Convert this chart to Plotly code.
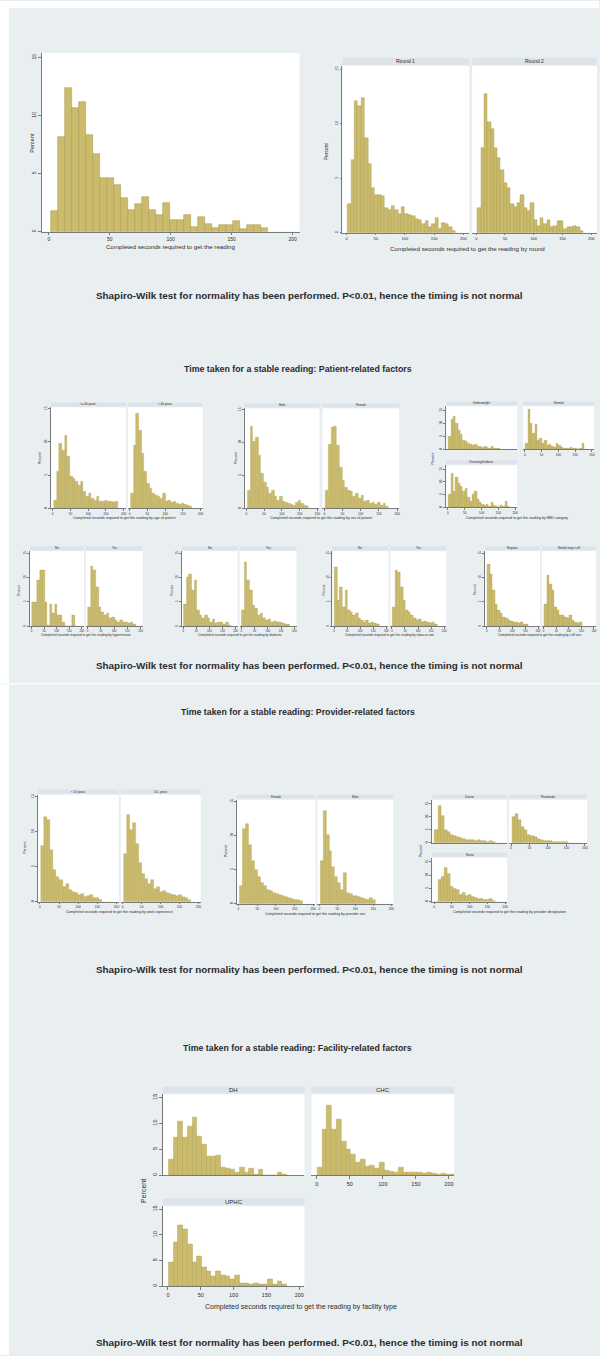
import plotly.graph_objects as go

W, H = 600, 1356
BG = "#e9eef1"
STRIP = "#dde3e8"
BAR = "#cbbb6c"
BAR_EDGE = "#a8994e"
AX = "#7a7a7a"
TXT = "#2b2b2b"
FONT = "Liberation Sans"

X_TICKS = [0, 50, 100, 150, 200]
Y_TICKS = [0, 5, 10, 15]

# ---------------- data (percent per bin) ----------------
# bins given as (first bin start in seconds, bin width in seconds)
BINS_OVERALL = (1.4, 5.75)
overall_pct = [1.8, 8.2, 12.4, 10.7, 11.2, 8.3, 6.7, 4.6, 4.6, 4.0, 2.9, 1.9, 2.4, 3.0, 1.9, 1.4,
               2.45, 1.0, 1.0, 1.4, 0.45, 1.3, 0.65, 0.35, 0.6, 0.6, 0.95, 0.25, 0.6, 0.6, 0.35]

BINS_ROUND = (2.2, 5.75)
round_labels = ["Round 1", "Round 2"]
round1_pct = [2.6, 6.7, 12.1, 11.6, 12.4, 8.7, 6.3, 4.1, 3.5, 3.5, 3.4, 2.3, 2.1, 2.5, 2.1, 1.7,
              2.4, 1.7, 1.6, 1.5, 1.3, 1.2, 0.8, 1.1, 0.5, 0.8, 1.4, 0.3, 0.9, 0.8, 0.5, 0.2]
round2_pct = [2.3, 7.8, 12.7, 10.2, 9.5, 7.8, 6.9, 5.8, 4.6, 4.1, 2.6, 2.4, 2.75, 3.5, 2.3, 2.0,
              2.75, 1.2, 0.6, 1.4, 0.8, 1.2, 0.5, 0.6, 1.1, 1.1, 0.3, 0.5, 0.5, 0.6, 0.5, 0.2]

# Patient-related factors, row 1
BINS_P1 = (3.6, 7.5)
age_labels = ["<= 40 years", "> 40 years"]
age_a = [1.25, 5.5, 9.75, 8.75, 11, 7.75, 4.75, 4.5, 4, 3.5, 4, 2.5, 1.75, 2.25, 1.5, 1.25,
         1.75, 1, 1, 1.25, 1, 1.1, 0.85, 1.1]
age_b = [2.25, 9.5, 14.25, 11.75, 8.25, 5.5, 3.75, 3, 2.25, 2, 1.75, 1.5, 2.25, 1, 1.25, 0.85,
         1, 0.75, 0.65, 0.75, 0.6, 0.5, 0.35]
sex_labels = ["Male", "Female"]
sex_a = [2.75, 12.5, 10.25, 10.75, 8, 5.25, 4, 3.25, 2.25, 2.75, 1.75, 1.25, 1.75, 1, 0.85, 0.75,
         0.65, 0.5, 0.85, 1.25, 0.75, 0.5, 0.35]
sex_b = [2.75, 9.75, 12.25, 12.5, 9.5, 6.25, 4.25, 3.25, 2.75, 2.5, 1.85, 2.25, 1.5, 2, 1, 1.15,
         0.75, 0.85, 0.65, 0.85, 0.5, 0.75, 0.35]
BINS_BMI = (2.0, 7.0)
bmi_labels = ["Underweight", "Normal", "Overweight/obese"]
bmi_a = [4.9, 11.4, 12.7, 10.1, 7.5, 5.6, 3.6, 3, 2.3, 2.1, 1.7, 1.9, 1, 1.3, 0.8, 1.3, 0.8, 0.5,
         1, 0.4, 0.4, 0.3]
bmi_b = [2.3, 15.3, 10.1, 6.2, 9.5, 3.6, 4.3, 2.3, 3.6, 1.7, 2.1, 1, 0.8, 2.3, 1.7, 0.8, 0.5, 0.4,
         0.3, 0.8, 0.3, 0.4, 0.1, 0.3, 2.3, 0.1]
bmi_c = [5.1, 13.3, 6.3, 12, 9.5, 8.2, 6.3, 7.6, 3.8, 2.5, 5.1, 6.3, 3.2, 1.9, 1.3, 0.6, 1.3, 0.25,
         1.9, 0.6, 0.25, 0, 0.6, 0.25, 2.5, 0.25]

# Patient-related factors, row 2
BINS_P2 = (2.0, 10.0)
yesno_labels = ["No", "Yes"]
htn_a = [5, 5, 9.4, 11.4, 11.4, 5, 0.2, 4.6, 2.6, 4.6, 2.2, 2.2, 0.9, 0, 0, 0, 2.2, 0]
htn_b = [3.9, 12.4, 11.4, 8, 3.9, 2.9, 2.2, 2.6, 1.6, 1.9, 1.2, 0.9, 1.2, 0.7, 0.9, 0.5, 0.7, 0.4]
dm_a = [4.6, 10, 10.7, 7.3, 9.4, 3.3, 2.2, 1.6, 2.2, 1.6, 0.9, 1.4, 0.5, 0.7, 0.9, 0.4, 0.7, 0.2]
dm_b = [3.3, 13.1, 9.4, 7.3, 4.3, 3.6, 2.2, 2.6, 1.6, 1.2, 1.4, 0.9, 1.1, 0.7, 0.9, 0.5, 0.4, 0.3]
tob_a = [12.1, 5.3, 8, 3.9, 7.3, 3.3, 2.9, 2.2, 2.6, 1.6, 1.2, 0.9, 1.2, 0.5, 0.9, 0.5, 0.4]
tob_b = [3.9, 11.4, 11.1, 8, 5.3, 3.3, 2.9, 2.2, 1.6, 1.2, 1.4, 0.9, 1.1, 0.7, 0.5, 0.7, 0.4]
cuff_labels = ["Regular", "Needs large cuff"]
cuff_a = [12.8, 10.7, 7.3, 4.6, 3.3, 2.6, 1.9, 1.6, 1.2, 1.1, 0.9, 0.7, 0.5, 0.7, 0.4, 0.3]
cuff_b = [4.6, 10.4, 8.7, 7.3, 3.9, 3.3, 2.2, 2.2, 1.9, 1.6, 2.2, 1.2, 0.9, 0.5, 0.7]

# Provider-related factors
BINS_PR = (3.0, 8.0)
pexp_labels = ["< 10 years", "10+ years"]
pexp_a = [7.9, 12.1, 11.7, 7.4, 4.5, 3.6, 3.1, 2.1, 2.6, 1.7, 1.4, 1.2, 0.95, 1.1, 0.7, 0.8,
          0.95, 0.6, 0.5, 0.3]
pexp_b = [6.9, 12.4, 10.2, 11.2, 8.3, 5.5, 4, 3.3, 2.6, 3.1, 1.9, 2.1, 1.4, 1.6, 1.2, 1.1, 0.95,
          0.8, 0.95, 0.7, 0.5, 0.3]
psex_labels = ["Female", "Male"]
psex_a = [2.6, 11, 11.7, 8.7, 6.3, 4.9, 4, 3.1, 2.6, 2.1, 1.9, 1.6, 1.4, 1.3, 1.1, 0.95, 0.8, 0.7,
          0.6, 0.5, 0.35]
psex_b = [6.3, 13.6, 10.1, 7.7, 5.4, 4, 3.1, 2.1, 4.5, 1.6, 1.4, 1.2, 1.1, 0.95, 0.8, 0.7, 0.6,
          0.8, 0.5]
BINS_DES = (2.0, 8.5)
des_labels = ["Doctor", "Paramedic", "Nurse"]
des_a = [5, 14.4, 10.6, 5, 4.4, 3.1, 2.5, 2.25, 1.9, 1.5, 1.25, 1, 1.25, 0.75, 1, 0.6, 0.9, 0.5,
         0.75, 0.4]
des_b = [10, 11.25, 8.75, 6.25, 5, 3.1, 2.75, 2.25, 1.5, 1.25, 0.9, 0.6, 0.75, 0.5, 0.4, 0.5,
         0.25, 0.5]
des_c = [0, 8.3, 9.4, 12.8, 10.6, 5.6, 5, 4.4, 2.8, 3.3, 2.2, 2.5, 1.7, 1.4, 1.1, 1, 0.8, 0.55,
         1.1, 0.3]

# Facility-related factors
BINS_FAC = (1.0, 7.2)
fac_labels = ["DH", "CHC", "UPHC"]
fac_dh = [3.1, 7.3, 10.3, 7.3, 9.4, 11.2, 7.5, 6.0, 3.6, 3.6, 3.9, 1.5, 1.3, 1.2, 0.65, 1.5, 0.5,
          1.3, 0.2, 1.2, 0, 0, 0, 0.5, 0.2]
fac_chc = [1.5, 8.9, 13.4, 8.9, 10.8, 6.6, 5.0, 4.1, 2.5, 3.1, 1.8, 1.9, 1.3, 2.5, 1.0, 0.8, 0.65,
           1.5, 0.5, 0.65, 0.5, 0.65, 0.4, 0.65, 0.4, 0.2, 0.4, 0.2, 0.1]
fac_uphc = [4.6, 8.5, 11.9, 11.1, 8.2, 4.6, 5.9, 3.6, 2.9, 2.0, 2.9, 2.1, 2.0, 1.4, 2.1, 0.65,
            0.65, 0.3, 0.65, 0.45, 0.3, 1.4, 0.3, 1.0, 0.3]

SW_TEXT = "Shapiro-Wilk test for normality has been performed. P<0.01, hence the timing is not normal"
XT = "Completed seconds required to get the reading"

# ---------------- figure ----------------
fig = go.Figure()
layout = {}
shapes = []
annotations = []
count = [0]


def text(x, y, s, size, bold=False, angle=0):
    annotations.append(dict(
        x=x / W, y=1 - y / H, xref="paper", yref="paper",
        text=f"<b>{s}</b>" if bold else s, showarrow=False,
        font=dict(family=FONT, size=size, color=TXT), textangle=angle,
        xanchor="center", yanchor="middle"))


def panel(box, pct, bins, xr, yr, show_x, show_y, fs, strip=None, strip_h=4, strip_fs=4,
          ticklen=2, lw=0.3):
    count[0] += 1
    n = count[0]
    sfx = "" if n == 1 else str(n)
    l, t, r, b = box
    centers = [bins[0] + bins[1] * (i + 0.5) for i in range(len(pct))]
    fig.add_trace(go.Bar(
        x=centers, y=pct, width=bins[1], xaxis="x" + sfx, yaxis="y" + sfx,
        marker=dict(color=BAR, line=dict(color=BAR_EDGE, width=lw)),
        showlegend=False, hoverinfo="skip"))
    layout["xaxis" + sfx] = dict(
        domain=[l / W, r / W], range=xr, anchor="y" + sfx, showline=True, linecolor=AX,
        linewidth=0.6, ticks="outside" if show_x else "", ticklen=ticklen, tickwidth=0.6,
        tickcolor=AX, tickvals=X_TICKS, showticklabels=show_x,
        tickfont=dict(family=FONT, size=fs, color=TXT), showgrid=False, zeroline=False,
        fixedrange=True)
    layout["yaxis" + sfx] = dict(
        domain=[1 - b / H, 1 - t / H], range=yr, anchor="x" + sfx, showline=show_y,
        linecolor=AX, linewidth=0.6, ticks="outside" if show_y else "", ticklen=ticklen,
        tickwidth=0.6, tickcolor=AX, tickvals=Y_TICKS, showticklabels=show_y, tickangle=-90,
        tickfont=dict(family=FONT, size=fs, color=TXT), showgrid=False, zeroline=False,
        fixedrange=True)
    if strip is not None:
        shapes.append(dict(type="rect", xref="paper", yref="paper",
                           x0=l / W, x1=r / W, y0=1 - (t - 1) / H, y1=1 - (t - 1 - strip_h) / H,
                           fillcolor=STRIP, line=dict(width=0), layer="below"))
        text((l + r) / 2, t - 1 - strip_h / 2, strip, strip_fs)


# white margins / slide separator
shapes.append(dict(type="rect", xref="paper", yref="paper", x0=0, x1=9 / W, y0=0, y1=1,
                   fillcolor="white", line=dict(width=0), layer="below"))
shapes.append(dict(type="rect", xref="paper", yref="paper", x0=0, x1=1, y0=1 - 7 / H, y1=1,
                   fillcolor="white", line=dict(width=0), layer="below"))
shapes.append(dict(type="rect", xref="paper", yref="paper", x0=0, x1=1,
                   y0=1 - 685 / H, y1=1 - 682.5 / H,
                   fillcolor="#f7f9fa", line=dict(width=0), layer="below"))

# ---- top: overall and by round ----
panel((42, 52, 300, 231), overall_pct, BINS_OVERALL, [-5.7, 205.7], [0, 15.4], True, True, 5,
      ticklen=3, lw=0.5)
text(32, 142, "Percent", 5.5, angle=-90)
text(171, 246, XT, 6.2)

panel((343, 65, 470, 232), round1_pct, BINS_ROUND, [-7, 210], [0, 15.3], True, True, 4,
      strip=round_labels[0], strip_h=7, strip_fs=5, lw=0.4)
panel((473, 65, 598, 232), round2_pct, BINS_ROUND, [-7, 210], [0, 15.3], True, False, 4,
      strip=round_labels[1], strip_h=7, strip_fs=5, lw=0.4)
text(326, 150, "Percent", 5, angle=-90)
text(468, 248, XT + " by round", 6.2)

text(310, 295, SW_TEXT, 9.9, bold=True)
text(298, 369, "Time taken for a stable reading: Patient-related factors", 8.8, bold=True)

# ---- patient row 1 ----
SM = 3.2
YR = [0, 15.2]
XR = [-5, 206]
panel((51, 407, 126, 508), age_a, BINS_P1, XR, YR, True, True, SM, strip=age_labels[0], strip_fs=3)
panel((128, 407, 203, 508), age_b, BINS_P1, XR, YR, True, False, SM, strip=age_labels[1], strip_fs=3)
text(40, 458, "Percent", 3.5, angle=-90)
text(125, 518, XT + " by age of patient", 3.6)

panel((245, 408, 320, 508), sex_a, BINS_P1, XR, YR, True, True, SM, strip=sex_labels[0], strip_fs=3)
panel((323, 408, 400, 508), sex_b, BINS_P1, XR, YR, True, False, SM, strip=sex_labels[1], strip_fs=3)
text(237, 458, "Percent", 3.5, angle=-90)
text(322, 518, XT + " by sex of patient", 3.6)

YR3 = [0, 16.6]
panel((447, 406, 518, 449), bmi_a, BINS_BMI, XR, YR3, False, True, SM, strip=bmi_labels[0], strip_fs=3)
panel((524, 406, 595, 449), bmi_b, BINS_BMI, XR, YR3, True, False, SM, strip=bmi_labels[1], strip_fs=3)
panel((447, 465, 518, 507), bmi_c, BINS_BMI, XR, YR3, True, True, SM, strip=bmi_labels[2], strip_fs=3)
text(434, 458, "Percent", 3.5, angle=-90)
text(518, 518, XT + " by BMI category", 3.6)

# ---- patient row 2 ----
YR2 = [0, 15.4]
XR2 = [-6, 208]
panel((30, 551, 84, 626), htn_a, BINS_P2, XR2, YR2, True, True, 2.8, strip=yesno_labels[0], strip_fs=3)
panel((86, 551, 143, 626), htn_b, BINS_P2, XR2, YR2, True, False, 2.8, strip=yesno_labels[1], strip_fs=3)
text(19, 590, "Percent", 3.2, angle=-90)
text(86, 635, XT + " by hypertension", 3.2)

panel((182, 551, 238, 626), dm_a, BINS_P2, XR2, YR2, True, True, 2.8, strip=yesno_labels[0], strip_fs=3)
panel((240, 551, 297, 626), dm_b, BINS_P2, XR2, YR2, True, False, 2.8, strip=yesno_labels[1], strip_fs=3)
text(172, 590, "Percent", 3.2, angle=-90)
text(240, 635, XT + " by diabetes", 3.2)

panel((333, 551, 389, 626), tob_a, BINS_P2, XR2, YR2, True, True, 2.8, strip=yesno_labels[0], strip_fs=3)
panel((391, 551, 447, 626), tob_b, BINS_P2, XR2, YR2, True, False, 2.8, strip=yesno_labels[1], strip_fs=3)
text(325, 590, "Percent", 3.2, angle=-90)
text(390, 635, XT + " by tobacco use", 3.2)

panel((486, 551, 541, 626), cuff_a, BINS_P2, XR2, YR2, True, True, 2.8, strip=cuff_labels[0], strip_fs=3)
panel((543, 551, 597, 626), cuff_b, BINS_P2, XR2, YR2, True, False, 2.8, strip=cuff_labels[1], strip_fs=3)
text(476, 590, "Percent", 3.2, angle=-90)
text(540, 635, XT + " by cuff size", 3.2)

text(310, 665, SW_TEXT, 9.9, bold=True)

# ---- provider ----
text(298, 712, "Time taken for a stable reading: Provider-related factors", 8.8, bold=True)
YRP = [0, 15.25]
panel((38, 795, 119, 902), pexp_a, BINS_PR, XR, YRP, True, True, SM, strip=pexp_labels[0], strip_fs=3)
panel((121, 795, 201, 902), pexp_b, BINS_PR, XR, YRP, True, False, SM, strip=pexp_labels[1], strip_fs=3)
text(25, 848, "Percent", 3.5, angle=-90)
text(120, 912, XT + " by work experience", 3.6)

panel((237, 800, 316, 904), psex_a, BINS_PR, XR, YRP, True, True, SM, strip=psex_labels[0], strip_fs=3)
panel((318, 800, 394, 904), psex_b, BINS_PR, XR, YRP, True, False, SM, strip=psex_labels[1], strip_fs=3)
text(226, 852, "Percent", 3.5, angle=-90)
text(316, 914, XT + " by provider sex", 3.6)

YRD = [0, 16.6]
panel((433, 800, 508, 843), des_a, BINS_DES, XR, YRD, False, True, SM, strip=des_labels[0], strip_fs=3)
panel((510, 800, 588, 843), des_b, BINS_DES, XR, YRD, True, False, SM, strip=des_labels[1], strip_fs=3)
panel((433, 858, 508, 902), des_c, BINS_DES, XR, YRD, True, True, SM, strip=des_labels[2], strip_fs=3)
text(421, 851, "Percent", 3.5, angle=-90)
text(510, 912, XT + " by provider designation", 3.6)

text(310, 970, SW_TEXT, 9.9, bold=True)

# ---- facility ----
text(298, 1049, "Time taken for a stable reading: Facility-related factors", 8.8, bold=True)
XRF = [-8, 208]
YRF = [0, 15.6]
panel((163, 1095, 305, 1176), fac_dh, BINS_FAC, XRF, YRF, False, True, 5.5,
      strip=fac_labels[0], strip_h=7, strip_fs=6, ticklen=3, lw=0.4)
panel((312, 1095, 455, 1176), fac_chc, BINS_FAC, XRF, YRF, True, False, 5.5,
      strip=fac_labels[1], strip_h=7, strip_fs=6, ticklen=3, lw=0.4)
panel((163, 1207, 305, 1287), fac_uphc, BINS_FAC, XRF, YRF, True, True, 5.5,
      strip=fac_labels[2], strip_h=7, strip_fs=6, ticklen=3, lw=0.4)
text(143, 1192, "Percent", 7, angle=-90)
text(302, 1308, XT + " by facility type", 7)

text(310, 1343, SW_TEXT, 9.9, bold=True)

fig.update_layout(
    width=W, height=H, margin=dict(l=0, r=0, t=0, b=0, pad=0),
    paper_bgcolor=BG, plot_bgcolor="white", bargap=0, barmode="overlay",
    shapes=shapes, annotations=annotations, showlegend=False,
    font=dict(family=FONT, color=TXT), **layout)

fig.write_html("out.html", config={"displayModeBar": False},
               post_script="document.body.style.margin='0';document.body.style.padding='0';")
